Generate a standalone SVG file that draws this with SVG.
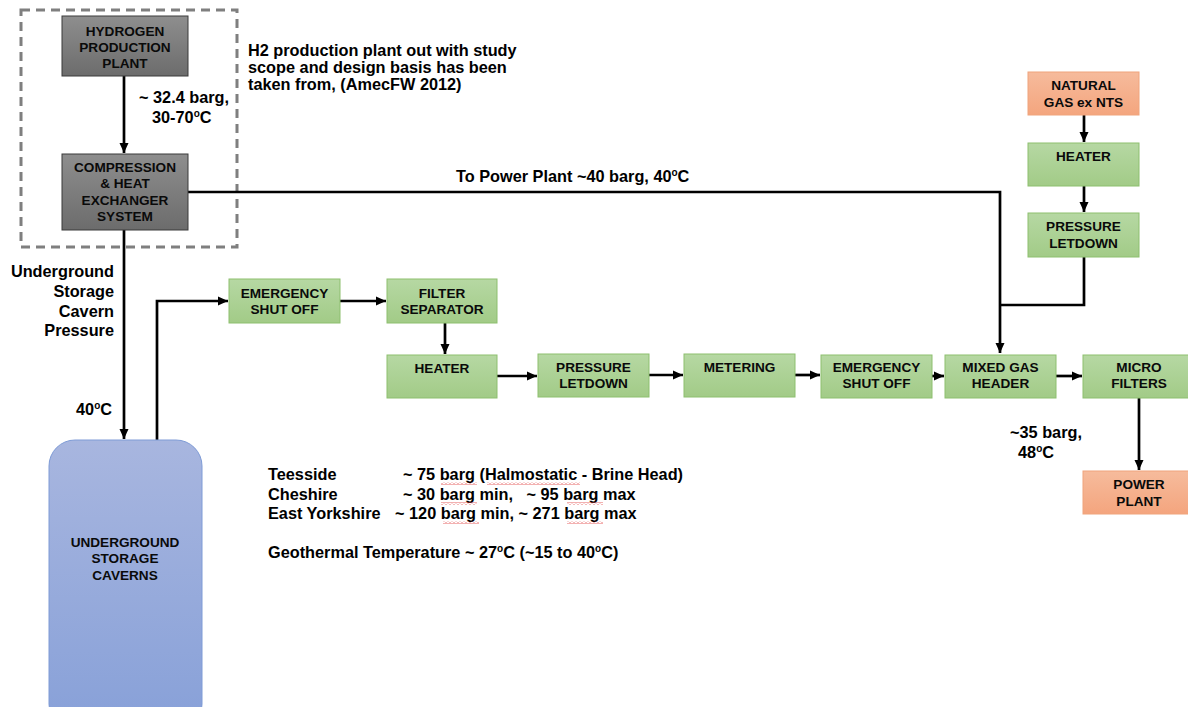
<svg xmlns="http://www.w3.org/2000/svg" width="1188" height="707" viewBox="0 0 1188 707">
<style>
  .t { font-family: "Liberation Sans", Arial, sans-serif; font-weight: bold; fill: #000; }
  .n { font-size: 13.6px; text-anchor: middle; fill: #0a0a0a; }
  .l { font-size: 16.3px; }
  .r { text-anchor: end; }
  .g { stroke: #8dbf6f; stroke-width: 1; fill: url(#gGreen); }
  .o { stroke: #f0a47c; stroke-width: 1; fill: url(#gOrange); }
  .k { stroke: #3a3a3a; stroke-width: 1; fill: url(#gGray); }
  .c { stroke: #000; stroke-width: 2.7; fill: none; }
  .a { marker-end: url(#arr); }
</style>
<defs>
  <linearGradient id="gGreen" x1="0" y1="0" x2="0" y2="1">
    <stop offset="0" stop-color="#b6d8a3"/>
    <stop offset="1" stop-color="#a2cb87"/>
  </linearGradient>
  <linearGradient id="gOrange" x1="0" y1="0" x2="0" y2="1">
    <stop offset="0" stop-color="#f6bb9c"/>
    <stop offset="1" stop-color="#f4a57e"/>
  </linearGradient>
  <linearGradient id="gGray" x1="0" y1="0" x2="0" y2="1">
    <stop offset="0" stop-color="#8e8e8e"/>
    <stop offset="1" stop-color="#6c6c6c"/>
  </linearGradient>
  <linearGradient id="gBlue" x1="0" y1="0" x2="0" y2="1">
    <stop offset="0" stop-color="#a8b6df"/>
    <stop offset="1" stop-color="#87a0d8"/>
  </linearGradient>
  <marker id="arr" markerUnits="userSpaceOnUse" markerWidth="10" markerHeight="10" refX="10" refY="5" orient="auto">
    <path d="M0,0.5 L10,5 L0,9.5 z" fill="#000"/>
  </marker>
  <pattern id="wavy" patternUnits="userSpaceOnUse" width="4" height="3">
    <path d="M0,2.5 L2,0.5 L4,2.5" stroke="#e03c3c" stroke-width="0.8" fill="none"/>
  </pattern>
</defs>

<rect x="0" y="0" width="1188" height="707" fill="#fff"/>

<!-- dashed boundary -->
<rect x="21" y="10" width="216" height="237" fill="none" stroke="#7f7f7f" stroke-width="3" stroke-dasharray="9 6"/>

<g id="connectors">
  <path class="c a" d="M124,76 V153"/>
  <path class="c a" d="M188,192 H1000 V353"/>
  <path class="c a" d="M124,230 V439"/>
  <path class="c a" d="M157,440 V301 H228"/>
  <path class="c a" d="M340,301 H386"/>
  <path class="c a" d="M445,323 V354"/>
  <path class="c a" d="M497,376 H537"/>
  <path class="c a" d="M649,375 H683"/>
  <path class="c a" d="M795,375 H820"/>
  <path class="c a" d="M932,376 H944"/>
  <path class="c a" d="M1056,376 H1082"/>
  <path class="c a" d="M1139,398 V470"/>
  <path class="c a" d="M1084,115 V142"/>
  <path class="c a" d="M1084,186 V212"/>
  <path class="c" d="M1084,257 V305 H1000"/>
</g>

<g id="hydrogen-production-plant">
  <rect class="k" x="62" y="16" width="126" height="60"/>
  <text class="t n" x="125" y="36">HYDROGEN</text>
  <text class="t n" x="125" y="52">PRODUCTION</text>
  <text class="t n" x="125" y="68">PLANT</text>
</g>

<g id="compression">
  <rect class="k" x="62" y="154" width="126" height="76"/>
  <text class="t n" x="125" y="172">COMPRESSION</text>
  <text class="t n" x="125" y="188">&amp; HEAT</text>
  <text class="t n" x="125" y="205">EXCHANGER</text>
  <text class="t n" x="125" y="221">SYSTEM</text>
</g>

<g id="caverns">
  <rect x="49" y="440" width="153" height="290" rx="26" ry="26" fill="url(#gBlue)" stroke="#7e9bd6" stroke-width="1"/>
  <text class="t n" x="125" y="547">UNDERGROUND</text>
  <text class="t n" x="125" y="563">STORAGE</text>
  <text class="t n" x="125" y="580">CAVERNS</text>
</g>

<g id="esd1">
  <rect class="g" x="229" y="279" width="111" height="44"/>
  <text class="t n" x="284.5" y="298">EMERGENCY</text>
  <text class="t n" x="284.5" y="314">SHUT OFF</text>
</g>

<g id="filter-separator">
  <rect class="g" x="387" y="279" width="110" height="44"/>
  <text class="t n" x="442" y="298">FILTER</text>
  <text class="t n" x="442" y="314">SEPARATOR</text>
</g>

<g id="heater1">
  <rect class="g" x="387" y="355" width="110" height="43"/>
  <text class="t n" x="442" y="373">HEATER</text>
</g>

<g id="pressure-letdown1">
  <rect class="g" x="538" y="354" width="111" height="43"/>
  <text class="t n" x="593.5" y="372">PRESSURE</text>
  <text class="t n" x="593.5" y="388">LETDOWN</text>
</g>

<g id="metering">
  <rect class="g" x="684" y="354" width="111" height="43"/>
  <text class="t n" x="739.5" y="372">METERING</text>
</g>

<g id="esd2">
  <rect class="g" x="821" y="355" width="111" height="43"/>
  <text class="t n" x="876.5" y="372">EMERGENCY</text>
  <text class="t n" x="876.5" y="388">SHUT OFF</text>
</g>

<g id="mixed-gas-header">
  <rect class="g" x="945" y="355" width="111" height="43"/>
  <text class="t n" x="1000.5" y="372">MIXED GAS</text>
  <text class="t n" x="1000.5" y="388">HEADER</text>
</g>

<g id="micro-filters">
  <rect class="g" x="1083" y="355" width="111" height="43"/>
  <text class="t n" x="1139" y="372">MICRO</text>
  <text class="t n" x="1139" y="388">FILTERS</text>
</g>

<g id="power-plant">
  <rect class="o" x="1083" y="471" width="111" height="43"/>
  <text class="t n" x="1139" y="489">POWER</text>
  <text class="t n" x="1139" y="506">PLANT</text>
</g>

<g id="natural-gas">
  <rect class="o" x="1028" y="72" width="111" height="43"/>
  <text class="t n" x="1083.5" y="90">NATURAL</text>
  <text class="t n" x="1083.5" y="107">GAS ex NTS</text>
</g>

<g id="heater2">
  <rect class="g" x="1028" y="143" width="111" height="43"/>
  <text class="t n" x="1083.5" y="161">HEATER</text>
</g>

<g id="pressure-letdown2">
  <rect class="g" x="1028" y="213" width="111" height="44"/>
  <text class="t n" x="1083.5" y="231">PRESSURE</text>
  <text class="t n" x="1083.5" y="248">LETDOWN</text>
</g>

<g id="labels">
  <text class="t l" x="248" y="56">H2 production plant out with study</text>
  <text class="t l" x="248" y="73">scope and design basis has been</text>
  <text class="t l" x="248" y="90">taken from, (AmecFW 2012)</text>

  <text class="t l" x="139" y="103">~ 32.4 barg,</text>
  <text class="t l" x="152" y="123">30-70<tspan font-size="10" dy="-6">o</tspan><tspan dy="6">C</tspan></text>

  <text class="t l" x="456" y="182">To Power Plant ~40 barg, 40<tspan font-size="10" dy="-6">o</tspan><tspan dy="6">C</tspan></text>

  <text class="t l r" x="114" y="277">Underground</text>
  <text class="t l r" x="114" y="297">Storage</text>
  <text class="t l r" x="114" y="317">Cavern</text>
  <text class="t l r" x="114" y="336">Pressure</text>
  <text class="t l" x="76" y="415">40<tspan font-size="10" dy="-6">o</tspan><tspan dy="6">C</tspan></text>

  <text class="t l" x="1010" y="438">~35 barg,</text>
  <text class="t l" x="1018" y="458">48<tspan font-size="10" dy="-6">o</tspan><tspan dy="6">C</tspan></text>

  <text class="t l" x="268" y="480">Teesside</text>
  <text class="t l" x="403" y="480">~ 75 barg (Halmostatic - Brine Head)</text>
  <text class="t l" x="268" y="500">Cheshire</text>
  <text class="t l" x="403" y="500" xml:space="preserve">~ 30 barg min,   ~ 95 barg max</text>
  <text class="t l" x="268" y="519">East Yorkshire</text>
  <text class="t l" x="395" y="519">~ 120 barg min, ~ 271 barg max</text>
  <text class="t l" x="268" y="558">Geothermal Temperature ~ 27<tspan font-size="10" dy="-6">o</tspan><tspan dy="6">C (~15 to 40</tspan><tspan font-size="10" dy="-6">o</tspan><tspan dy="6">C)</tspan></text>

  <rect x="441" y="482" width="36" height="3" fill="url(#wavy)"/>
  <rect x="487" y="482" width="93" height="3" fill="url(#wavy)"/>
  <rect x="441" y="502" width="36" height="3" fill="url(#wavy)"/>
  <rect x="567" y="502" width="36" height="3" fill="url(#wavy)"/>
  <rect x="443" y="521" width="36" height="3" fill="url(#wavy)"/>
  <rect x="567" y="521" width="36" height="3" fill="url(#wavy)"/>
</g>
</svg>
